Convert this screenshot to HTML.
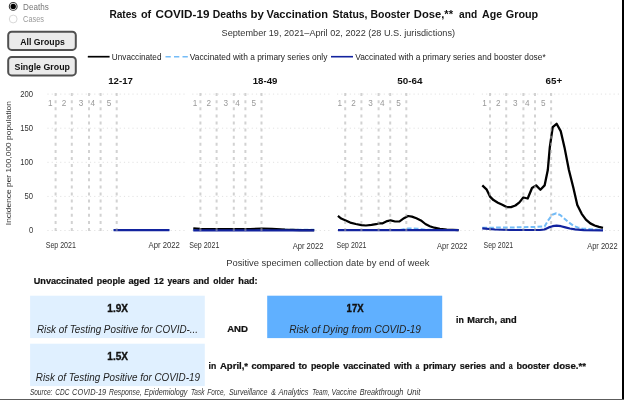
<!DOCTYPE html>
<html lang="en">
<head>
<meta charset="utf-8">
<title>Rates of COVID-19 Deaths by Vaccination Status, Booster Dose, and Age Group</title>
<style>
html,body{margin:0;padding:0;background:#fff;overflow:hidden}
body{width:624px;height:400px;font-family:"Liberation Sans", sans-serif}
svg{display:block;font-family:"Liberation Sans", sans-serif}
text{white-space:pre}
</style>
</head>
<body>
<svg width="624" height="400" viewBox="0 0 624 400">
<rect x="0" y="0" width="624" height="400" fill="#ffffff"/>
<g id="controls">
<circle cx="13.2" cy="6.4" r="3.9" fill="#fff" stroke="#3a3a3a" stroke-width="1.1"/>
<circle cx="13.2" cy="6.4" r="2.7" fill="#000"/>
<circle cx="13.2" cy="19.0" r="3.9" fill="#fff" stroke="#d8d8d8" stroke-width="1"/>
<text x="23.1" y="9.7" font-size="9.3" font-weight="normal" font-style="normal" fill="#777" textLength="25.7" lengthAdjust="spacingAndGlyphs">Deaths</text>
<text x="23.1" y="22.2" font-size="9.3" font-weight="normal" font-style="normal" fill="#999" textLength="20.9" lengthAdjust="spacingAndGlyphs">Cases</text>
<rect x="8.2" y="31.7" width="67.6" height="18.2" rx="3.5" fill="#ebebeb" stroke="#505050" stroke-width="2"/>
<rect x="8.2" y="56.9" width="67.6" height="18.5" rx="3.5" fill="#ebebeb" stroke="#505050" stroke-width="2"/>
<text x="20.3" y="45.3" font-size="9.5" font-weight="bold" font-style="normal" fill="#111" textLength="44.5" lengthAdjust="spacingAndGlyphs">All Groups</text>
<text x="14.5" y="70.3" font-size="9.5" font-weight="bold" font-style="normal" fill="#111" textLength="55.5" lengthAdjust="spacingAndGlyphs">Single Group</text>
</g>
<g id="header">
<text y="17.7" font-size="11.5" font-weight="bold" font-style="normal" fill="#111"><tspan x="109.4" textLength="27.6" lengthAdjust="spacingAndGlyphs">Rates</tspan> <tspan x="140.9" textLength="10.3" lengthAdjust="spacingAndGlyphs">of</tspan> <tspan x="155.5" textLength="53.9" lengthAdjust="spacingAndGlyphs">COVID-19</tspan> <tspan x="212.7" textLength="34.6" lengthAdjust="spacingAndGlyphs">Deaths</tspan> <tspan x="250.6" textLength="13.4" lengthAdjust="spacingAndGlyphs">by</tspan> <tspan x="266.4" textLength="61.6" lengthAdjust="spacingAndGlyphs">Vaccination</tspan> <tspan x="332.6" textLength="77.4" lengthAdjust="spacingAndGlyphs">Status, Booster</tspan> <tspan x="413.8" textLength="39.2" lengthAdjust="spacingAndGlyphs">Dose,**</tspan> <tspan x="459.0" textLength="18.1" lengthAdjust="spacingAndGlyphs">and</tspan> <tspan x="482.1" textLength="20.1" lengthAdjust="spacingAndGlyphs">Age</tspan> <tspan x="505.8" textLength="32.4" lengthAdjust="spacingAndGlyphs">Group</tspan></text>
<text x="221.6" y="36.0" font-size="9.5" font-weight="normal" font-style="normal" fill="#333" textLength="233.4" lengthAdjust="spacingAndGlyphs">September 19, 2021–April 02, 2022 (28 U.S. jurisdictions)</text>
</g>
<g id="legend">
<line x1="87.8" y1="56.7" x2="109.6" y2="56.7" stroke="#000" stroke-width="1.7"/>
<text x="111.8" y="59.6" font-size="8.6" font-weight="normal" font-style="normal" fill="#222" textLength="49.7" lengthAdjust="spacingAndGlyphs">Unvaccinated</text>
<line x1="165.5" y1="56.7" x2="187.8" y2="56.7" stroke="#74bcf7" stroke-width="1.6" stroke-dasharray="5.3 3.2"/>
<text x="189.8" y="59.6" font-size="8.6" font-weight="normal" font-style="normal" fill="#222" textLength="137.6" lengthAdjust="spacingAndGlyphs">Vaccinated with a primary series only</text>
<line x1="331" y1="56.7" x2="353" y2="56.7" stroke="#12239e" stroke-width="1.6"/>
<text x="355.2" y="59.6" font-size="8.6" font-weight="normal" font-style="normal" fill="#222" textLength="190.5" lengthAdjust="spacingAndGlyphs">Vaccinated with a primary series and booster dose*</text>
</g>
<g id="chart">
<text x="33.1" y="96.7" font-size="8.2" fill="#333" text-anchor="end" textLength="12.8" lengthAdjust="spacingAndGlyphs">200</text>
<text x="33.1" y="130.8" font-size="8.2" fill="#333" text-anchor="end" textLength="12.8" lengthAdjust="spacingAndGlyphs">150</text>
<text x="33.1" y="164.9" font-size="8.2" fill="#333" text-anchor="end" textLength="12.8" lengthAdjust="spacingAndGlyphs">100</text>
<text x="33.1" y="199.0" font-size="8.2" fill="#333" text-anchor="end" textLength="8.5" lengthAdjust="spacingAndGlyphs">50</text>
<text x="33.1" y="233.1" font-size="8.2" fill="#333" text-anchor="end" textLength="4.2" lengthAdjust="spacingAndGlyphs">0</text>
<text transform="translate(11.1,163.2) rotate(-90)" font-size="7.4" fill="#333" text-anchor="middle" textLength="124" lengthAdjust="spacingAndGlyphs">Incidence per 100,000 population</text>
<line x1="47.4" y1="94.1" x2="185.5" y2="94.1" stroke="#e2e2e2" stroke-width="1" stroke-dasharray="1.2 3.05"/>
<line x1="47.4" y1="128.2" x2="185.5" y2="128.2" stroke="#e2e2e2" stroke-width="1" stroke-dasharray="1.2 3.05"/>
<line x1="47.4" y1="162.3" x2="185.5" y2="162.3" stroke="#e2e2e2" stroke-width="1" stroke-dasharray="1.2 3.05"/>
<line x1="47.4" y1="196.4" x2="185.5" y2="196.4" stroke="#e2e2e2" stroke-width="1" stroke-dasharray="1.2 3.05"/>
<line x1="47.4" y1="230.5" x2="185.5" y2="230.5" stroke="#e2e2e2" stroke-width="1" stroke-dasharray="1.2 3.05"/>
<text x="50.2" y="106.0" font-size="8.2" fill="#999" text-anchor="middle">1</text>
<text x="64.0" y="106.0" font-size="8.2" fill="#999" text-anchor="middle">2</text>
<text x="81.0" y="106.0" font-size="8.2" fill="#999" text-anchor="middle">3</text>
<text x="92.8" y="106.0" font-size="8.2" fill="#999" text-anchor="middle">4</text>
<text x="109.0" y="106.0" font-size="8.2" fill="#999" text-anchor="middle">5</text>
<text x="108.2" y="84.1" font-size="9.2" font-weight="bold" font-style="normal" fill="#111" textLength="24.7" lengthAdjust="spacingAndGlyphs">12-17</text>
<text x="45.7" y="248.0" font-size="8.8" font-weight="normal" font-style="normal" fill="#333" textLength="30.2" lengthAdjust="spacingAndGlyphs">Sep 2021</text>
<text x="148.5" y="248.0" font-size="8.8" font-weight="normal" font-style="normal" fill="#333" textLength="31.3" lengthAdjust="spacingAndGlyphs">Apr 2022</text>
<line x1="192.2" y1="94.1" x2="330.3" y2="94.1" stroke="#e2e2e2" stroke-width="1" stroke-dasharray="1.2 3.05"/>
<line x1="192.2" y1="128.2" x2="330.3" y2="128.2" stroke="#e2e2e2" stroke-width="1" stroke-dasharray="1.2 3.05"/>
<line x1="192.2" y1="162.3" x2="330.3" y2="162.3" stroke="#e2e2e2" stroke-width="1" stroke-dasharray="1.2 3.05"/>
<line x1="192.2" y1="196.4" x2="330.3" y2="196.4" stroke="#e2e2e2" stroke-width="1" stroke-dasharray="1.2 3.05"/>
<line x1="192.2" y1="230.5" x2="330.3" y2="230.5" stroke="#e2e2e2" stroke-width="1" stroke-dasharray="1.2 3.05"/>
<text x="195.0" y="106.0" font-size="8.2" fill="#999" text-anchor="middle">1</text>
<text x="208.8" y="106.0" font-size="8.2" fill="#999" text-anchor="middle">2</text>
<text x="225.8" y="106.0" font-size="8.2" fill="#999" text-anchor="middle">3</text>
<text x="237.6" y="106.0" font-size="8.2" fill="#999" text-anchor="middle">4</text>
<text x="253.8" y="106.0" font-size="8.2" fill="#999" text-anchor="middle">5</text>
<text x="252.7" y="84.1" font-size="9.2" font-weight="bold" font-style="normal" fill="#111" textLength="24.7" lengthAdjust="spacingAndGlyphs">18-49</text>
<text x="189.2" y="248.0" font-size="8.8" font-weight="normal" font-style="normal" fill="#333" textLength="30.2" lengthAdjust="spacingAndGlyphs">Sep 2021</text>
<text x="292.7" y="249.3" font-size="8.8" font-weight="normal" font-style="normal" fill="#333" textLength="30.8" lengthAdjust="spacingAndGlyphs">Apr 2022</text>
<line x1="337.0" y1="94.1" x2="475.1" y2="94.1" stroke="#e2e2e2" stroke-width="1" stroke-dasharray="1.2 3.05"/>
<line x1="337.0" y1="128.2" x2="475.1" y2="128.2" stroke="#e2e2e2" stroke-width="1" stroke-dasharray="1.2 3.05"/>
<line x1="337.0" y1="162.3" x2="475.1" y2="162.3" stroke="#e2e2e2" stroke-width="1" stroke-dasharray="1.2 3.05"/>
<line x1="337.0" y1="196.4" x2="475.1" y2="196.4" stroke="#e2e2e2" stroke-width="1" stroke-dasharray="1.2 3.05"/>
<line x1="337.0" y1="230.5" x2="475.1" y2="230.5" stroke="#e2e2e2" stroke-width="1" stroke-dasharray="1.2 3.05"/>
<text x="339.8" y="106.0" font-size="8.2" fill="#999" text-anchor="middle">1</text>
<text x="353.6" y="106.0" font-size="8.2" fill="#999" text-anchor="middle">2</text>
<text x="370.6" y="106.0" font-size="8.2" fill="#999" text-anchor="middle">3</text>
<text x="382.4" y="106.0" font-size="8.2" fill="#999" text-anchor="middle">4</text>
<text x="398.6" y="106.0" font-size="8.2" fill="#999" text-anchor="middle">5</text>
<text x="397.2" y="84.1" font-size="9.2" font-weight="bold" font-style="normal" fill="#111" textLength="25.2" lengthAdjust="spacingAndGlyphs">50-64</text>
<text x="336.5" y="248.0" font-size="8.8" font-weight="normal" font-style="normal" fill="#333" textLength="30.0" lengthAdjust="spacingAndGlyphs">Sep 2021</text>
<text x="437.1" y="249.3" font-size="8.8" font-weight="normal" font-style="normal" fill="#333" textLength="30.3" lengthAdjust="spacingAndGlyphs">Apr 2022</text>
<line x1="481.8" y1="94.1" x2="619.9" y2="94.1" stroke="#e2e2e2" stroke-width="1" stroke-dasharray="1.2 3.05"/>
<line x1="481.8" y1="128.2" x2="619.9" y2="128.2" stroke="#e2e2e2" stroke-width="1" stroke-dasharray="1.2 3.05"/>
<line x1="481.8" y1="162.3" x2="619.9" y2="162.3" stroke="#e2e2e2" stroke-width="1" stroke-dasharray="1.2 3.05"/>
<line x1="481.8" y1="196.4" x2="619.9" y2="196.4" stroke="#e2e2e2" stroke-width="1" stroke-dasharray="1.2 3.05"/>
<line x1="481.8" y1="230.5" x2="619.9" y2="230.5" stroke="#e2e2e2" stroke-width="1" stroke-dasharray="1.2 3.05"/>
<text x="484.6" y="106.0" font-size="8.2" fill="#999" text-anchor="middle">1</text>
<text x="498.4" y="106.0" font-size="8.2" fill="#999" text-anchor="middle">2</text>
<text x="515.4" y="106.0" font-size="8.2" fill="#999" text-anchor="middle">3</text>
<text x="527.2" y="106.0" font-size="8.2" fill="#999" text-anchor="middle">4</text>
<text x="543.4" y="106.0" font-size="8.2" fill="#999" text-anchor="middle">5</text>
<text x="545.6" y="84.1" font-size="9.2" font-weight="bold" font-style="normal" fill="#111" textLength="16.6" lengthAdjust="spacingAndGlyphs">65+</text>
<text x="483.6" y="248.0" font-size="8.8" font-weight="normal" font-style="normal" fill="#333" textLength="29.6" lengthAdjust="spacingAndGlyphs">Sep 2021</text>
<text x="587.2" y="249.3" font-size="8.8" font-weight="normal" font-style="normal" fill="#333" textLength="30.4" lengthAdjust="spacingAndGlyphs">Apr 2022</text>
<polyline points="113.6,229.9 169.4,229.9" fill="none" stroke="#74bcf7" stroke-width="2.0" stroke-linejoin="round" stroke-linecap="butt" stroke-dasharray="4.7 2.2"/>
<polyline points="113.6,230.2 169.4,230.2" fill="none" stroke="#12239e" stroke-width="2.2" stroke-linejoin="round" stroke-linecap="butt"/>
<polyline points="193.3,229.8 314.2,229.8" fill="none" stroke="#74bcf7" stroke-width="2.0" stroke-linejoin="round" stroke-linecap="butt" stroke-dasharray="4.7 2.2"/>
<polyline points="193.3,228.3 200.0,228.9 215.0,229.2 235.0,229.2 250.0,229.1 262.0,228.5 272.0,228.9 285.0,229.7 300.0,230.1 314.2,230.2" fill="none" stroke="#000" stroke-width="2.2" stroke-linejoin="round" stroke-linecap="butt"/>
<polyline points="193.3,230.3 314.2,230.3" fill="none" stroke="#12239e" stroke-width="2.2" stroke-linejoin="round" stroke-linecap="butt"/>
<polyline points="337.9,215.9 341.2,218.6 345.7,220.4 350.2,222.6 355.8,224.0 361.4,225.1 365.9,225.5 371.5,224.9 376.0,224.2 379.4,223.3 382.7,223.3 387.2,221.1 390.6,220.4 395.1,221.5 399.6,221.3 404.0,218.2 408.1,216.0 411.9,216.6 416.4,218.3 420.9,220.4 425.4,224.0 429.8,226.2 434.3,227.7 439.9,228.8 446.7,229.5 458.6,230.1" fill="none" stroke="#000" stroke-width="2.2" stroke-linejoin="round" stroke-linecap="butt"/>
<polyline points="338.0,229.9 400.0,229.9 408.0,228.4 418.0,228.7 426.0,229.8 458.0,230.1" fill="none" stroke="#74bcf7" stroke-width="2.0" stroke-linejoin="round" stroke-linecap="butt" stroke-dasharray="4.7 2.2"/>
<polyline points="338.0,230.2 458.6,230.2" fill="none" stroke="#12239e" stroke-width="2.2" stroke-linejoin="round" stroke-linecap="butt"/>
<polyline points="482.3,185.4 486.5,189.3 490.0,196.6 493.5,200.1 497.9,202.7 502.3,204.7 506.6,207.1 511.0,207.1 515.4,205.5 519.4,202.4 523.3,197.5 527.7,198.5 532.0,188.0 536.1,185.4 540.4,189.8 544.6,185.4 547.8,170.0 549.8,147.4 552.7,127.1 556.6,123.8 560.7,131.1 564.5,147.4 568.9,170.0 573.3,187.5 577.3,205.0 581.7,213.8 585.9,219.6 590.3,223.4 594.6,225.5 599.0,226.9 603.0,227.8" fill="none" stroke="#000" stroke-width="2.3" stroke-linejoin="round" stroke-linecap="butt"/>
<polyline points="482.3,227.7 500.0,227.6 520.0,227.3 535.0,226.9 544.6,226.4 547.9,220.8 552.3,214.7 556.3,213.3 560.5,215.2 564.5,218.7 568.9,222.5 573.3,225.7 577.7,227.4 582.0,228.5 590.8,229.2 603.0,229.9" fill="none" stroke="#74bcf7" stroke-width="2.0" stroke-linejoin="round" stroke-linecap="butt" stroke-dasharray="4.7 2.2"/>
<polyline points="482.3,228.3 495.0,229.5 510.0,230.0 540.0,230.0 544.4,229.5 548.8,227.4 552.6,226.2 556.6,225.7 561.0,226.2 565.4,227.4 569.8,228.5 575.0,229.4 583.8,230.1 603.0,230.4" fill="none" stroke="#12239e" stroke-width="2.2" stroke-linejoin="round" stroke-linecap="butt"/>
<line x1="55.6" y1="93.1" x2="55.6" y2="231.2" stroke="#adadad" stroke-opacity="0.55" stroke-width="2" stroke-dasharray="3 4.1"/>
<line x1="71.8" y1="93.1" x2="71.8" y2="231.2" stroke="#adadad" stroke-opacity="0.55" stroke-width="2" stroke-dasharray="3 4.1"/>
<line x1="89.0" y1="93.1" x2="89.0" y2="231.2" stroke="#adadad" stroke-opacity="0.55" stroke-width="2" stroke-dasharray="3 4.1"/>
<line x1="100.6" y1="93.1" x2="100.6" y2="231.2" stroke="#adadad" stroke-opacity="0.55" stroke-width="2" stroke-dasharray="3 4.1"/>
<line x1="116.7" y1="93.1" x2="116.7" y2="231.2" stroke="#adadad" stroke-opacity="0.55" stroke-width="2" stroke-dasharray="3 4.1"/>
<line x1="200.4" y1="93.1" x2="200.4" y2="231.2" stroke="#adadad" stroke-opacity="0.55" stroke-width="2" stroke-dasharray="3 4.1"/>
<line x1="216.6" y1="93.1" x2="216.6" y2="231.2" stroke="#adadad" stroke-opacity="0.55" stroke-width="2" stroke-dasharray="3 4.1"/>
<line x1="233.8" y1="93.1" x2="233.8" y2="231.2" stroke="#adadad" stroke-opacity="0.55" stroke-width="2" stroke-dasharray="3 4.1"/>
<line x1="245.4" y1="93.1" x2="245.4" y2="231.2" stroke="#adadad" stroke-opacity="0.55" stroke-width="2" stroke-dasharray="3 4.1"/>
<line x1="261.5" y1="93.1" x2="261.5" y2="231.2" stroke="#adadad" stroke-opacity="0.55" stroke-width="2" stroke-dasharray="3 4.1"/>
<line x1="345.2" y1="93.1" x2="345.2" y2="231.2" stroke="#adadad" stroke-opacity="0.55" stroke-width="2" stroke-dasharray="3 4.1"/>
<line x1="361.4" y1="93.1" x2="361.4" y2="231.2" stroke="#adadad" stroke-opacity="0.55" stroke-width="2" stroke-dasharray="3 4.1"/>
<line x1="378.6" y1="93.1" x2="378.6" y2="231.2" stroke="#adadad" stroke-opacity="0.55" stroke-width="2" stroke-dasharray="3 4.1"/>
<line x1="390.2" y1="93.1" x2="390.2" y2="231.2" stroke="#adadad" stroke-opacity="0.55" stroke-width="2" stroke-dasharray="3 4.1"/>
<line x1="406.3" y1="93.1" x2="406.3" y2="231.2" stroke="#adadad" stroke-opacity="0.55" stroke-width="2" stroke-dasharray="3 4.1"/>
<line x1="490.0" y1="93.1" x2="490.0" y2="231.2" stroke="#adadad" stroke-opacity="0.55" stroke-width="2" stroke-dasharray="3 4.1"/>
<line x1="506.2" y1="93.1" x2="506.2" y2="231.2" stroke="#adadad" stroke-opacity="0.55" stroke-width="2" stroke-dasharray="3 4.1"/>
<line x1="523.4" y1="93.1" x2="523.4" y2="231.2" stroke="#adadad" stroke-opacity="0.55" stroke-width="2" stroke-dasharray="3 4.1"/>
<line x1="535.0" y1="93.1" x2="535.0" y2="231.2" stroke="#adadad" stroke-opacity="0.55" stroke-width="2" stroke-dasharray="3 4.1"/>
<line x1="551.1" y1="93.1" x2="551.1" y2="231.2" stroke="#adadad" stroke-opacity="0.55" stroke-width="2" stroke-dasharray="3 4.1"/>
<text x="226.2" y="266.2" font-size="9.5" font-weight="normal" font-style="normal" fill="#333" textLength="203.3" lengthAdjust="spacingAndGlyphs">Positive specimen collection date by end of week</text>
</g>
<g id="summary">
<text y="284.0" font-size="9.3" font-weight="bold" font-style="normal" fill="#111" stroke="#111" stroke-width="0.22"><tspan x="33.8" textLength="59.2" lengthAdjust="spacingAndGlyphs">Unvaccinated</tspan> <tspan x="96.8" textLength="28.3" lengthAdjust="spacingAndGlyphs">people</tspan> <tspan x="128.4" textLength="21.6" lengthAdjust="spacingAndGlyphs">aged</tspan> <tspan x="154.1" textLength="9.7" lengthAdjust="spacingAndGlyphs">12</tspan> <tspan x="167.4" textLength="22.3" lengthAdjust="spacingAndGlyphs">years</tspan> <tspan x="193.3" textLength="16.1" lengthAdjust="spacingAndGlyphs">and</tspan> <tspan x="213.3" textLength="20.9" lengthAdjust="spacingAndGlyphs">older</tspan> <tspan x="238.3" textLength="19.3" lengthAdjust="spacingAndGlyphs">had:</tspan></text>
<rect x="30.1" y="295.7" width="174.7" height="42.4" fill="#e0f0ff"/>
<rect x="30.1" y="343.7" width="174.7" height="42.4" fill="#e0f0ff"/>
<rect x="267.2" y="295.7" width="175.0" height="42.4" fill="#60b0ff"/>
<text x="107.3" y="311.8" font-size="10.2" font-weight="bold" font-style="normal" fill="#111" textLength="20.7" lengthAdjust="spacingAndGlyphs" stroke="#111" stroke-width="0.35">1.9X</text>
<text x="107.3" y="360.2" font-size="10.2" font-weight="bold" font-style="normal" fill="#111" textLength="20.7" lengthAdjust="spacingAndGlyphs" stroke="#111" stroke-width="0.35">1.5X</text>
<text x="346.6" y="311.8" font-size="10.2" font-weight="bold" font-style="normal" fill="#111" textLength="17.0" lengthAdjust="spacingAndGlyphs" stroke="#111" stroke-width="0.35">17X</text>
<text x="36.9" y="332.5" font-size="10" font-weight="normal" font-style="italic" fill="#222" textLength="161.1" lengthAdjust="spacingAndGlyphs">Risk of Testing Positive for COVID-...</text>
<text x="35.8" y="380.9" font-size="10" font-weight="normal" font-style="italic" fill="#222" textLength="164.2" lengthAdjust="spacingAndGlyphs">Risk of Testing Positive for COVID-19</text>
<text x="289.2" y="332.5" font-size="10" font-weight="normal" font-style="italic" fill="#222" textLength="131.8" lengthAdjust="spacingAndGlyphs">Risk of Dying from COVID-19</text>
<text x="227.2" y="331.7" font-size="8.9" font-weight="bold" font-style="normal" fill="#111" textLength="20.8" lengthAdjust="spacingAndGlyphs" stroke="#111" stroke-width="0.22">AND</text>
<text y="322.5" font-size="9.2" font-weight="bold" font-style="normal" fill="#111" stroke="#111" stroke-width="0.22"><tspan x="456.0" textLength="7.8" lengthAdjust="spacingAndGlyphs">in</tspan> <tspan x="467.3" textLength="29.7" lengthAdjust="spacingAndGlyphs">March,</tspan> <tspan x="500.2" textLength="16.5" lengthAdjust="spacingAndGlyphs">and</tspan></text>
<text y="368.9" font-size="9.2" font-weight="bold" font-style="normal" fill="#111" stroke="#111" stroke-width="0.22"><tspan x="208.6" textLength="7.7" lengthAdjust="spacingAndGlyphs">in</tspan> <tspan x="219.9" textLength="28.2" lengthAdjust="spacingAndGlyphs">April,*</tspan> <tspan x="251.4" textLength="43.6" lengthAdjust="spacingAndGlyphs">compared</tspan> <tspan x="298.4" textLength="8.7" lengthAdjust="spacingAndGlyphs">to</tspan> <tspan x="310.9" textLength="28.5" lengthAdjust="spacingAndGlyphs">people</tspan> <tspan x="343.2" textLength="47.2" lengthAdjust="spacingAndGlyphs">vaccinated</tspan> <tspan x="394.0" textLength="17.9" lengthAdjust="spacingAndGlyphs">with</tspan> <tspan x="415.5" textLength="3.8" lengthAdjust="spacingAndGlyphs">a</tspan> <tspan x="423.2" textLength="32.8" lengthAdjust="spacingAndGlyphs">primary</tspan> <tspan x="459.8" textLength="26.3" lengthAdjust="spacingAndGlyphs">series</tspan> <tspan x="489.8" textLength="15.6" lengthAdjust="spacingAndGlyphs">and</tspan> <tspan x="508.7" textLength="3.9" lengthAdjust="spacingAndGlyphs">a</tspan> <tspan x="516.4" textLength="33.3" lengthAdjust="spacingAndGlyphs">booster</tspan> <tspan x="553.3" textLength="32.7" lengthAdjust="spacingAndGlyphs">dose.**</tspan></text>
<text y="394.7" font-size="8.4" font-style="italic" fill="#333"><tspan x="29.9" textLength="22.5" lengthAdjust="spacingAndGlyphs">Source:</tspan> <tspan x="55.3" textLength="14.1" lengthAdjust="spacingAndGlyphs">CDC</tspan> <tspan x="72.1" textLength="34.1" lengthAdjust="spacingAndGlyphs">COVID-19</tspan> <tspan x="109.1" textLength="32.6" lengthAdjust="spacingAndGlyphs">Response,</tspan> <tspan x="144.3" textLength="43.1" lengthAdjust="spacingAndGlyphs">Epidemiology</tspan> <tspan x="191.0" textLength="13.4" lengthAdjust="spacingAndGlyphs">Task</tspan> <tspan x="207.3" textLength="18.0" lengthAdjust="spacingAndGlyphs">Force,</tspan> <tspan x="228.9" textLength="38.5" lengthAdjust="spacingAndGlyphs">Surveillance</tspan> <tspan x="271.2" textLength="4.6" lengthAdjust="spacingAndGlyphs">&amp;</tspan> <tspan x="278.5" textLength="30.0" lengthAdjust="spacingAndGlyphs">Analytics</tspan> <tspan x="312.3" textLength="17.2" lengthAdjust="spacingAndGlyphs">Team,</tspan> <tspan x="331.5" textLength="25.2" lengthAdjust="spacingAndGlyphs">Vaccine</tspan> <tspan x="359.7" textLength="43.6" lengthAdjust="spacingAndGlyphs">Breakthrough</tspan> <tspan x="406.7" textLength="13.8" lengthAdjust="spacingAndGlyphs">Unit</tspan></text>
</g>
<rect x="622" y="0" width="2" height="400" fill="#000"/>
<rect x="0" y="399" width="624" height="1" fill="#5c5c5c"/>
</svg>
</body>
</html>
